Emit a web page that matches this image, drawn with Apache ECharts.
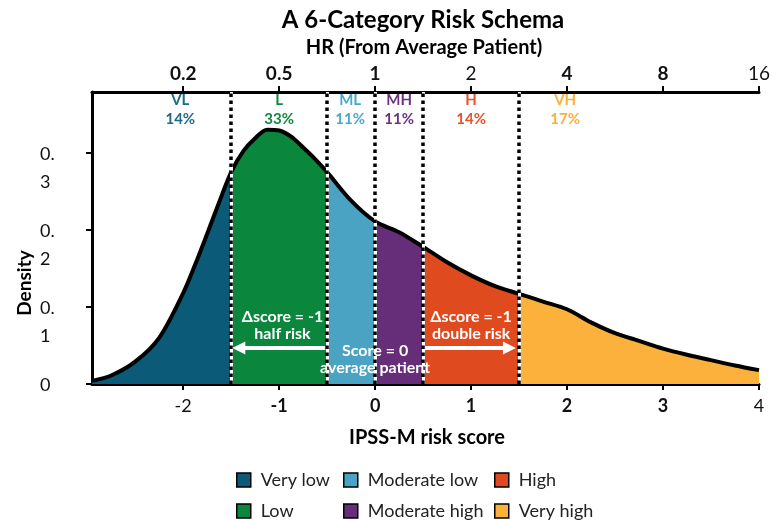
<!DOCTYPE html>
<html>
<head>
<meta charset="utf-8">
<script src="https://cdn.jsdelivr.net/npm/echarts@6/dist/echarts.min.js"></script>
<style>
  html, body { margin: 0; padding: 0; background: #fff; }
  #chart { width: 773px; height: 520px; }
</style>
</head>
<body>
<div id="chart"></div>
<script>
// Density of the IPSS-M risk score
const scores  = [-2.95, -2.75, -2.5, -2.25, -2.0, -1.875, -1.75, -1.625, -1.5, -1.375, -1.25, -1.125, -1.0, -0.875, -0.75, -0.625, -0.5, -0.25, 0, 0.25, 0.5, 0.75, 1.0, 1.25, 1.5, 1.75, 2.0, 2.25, 2.5, 2.75, 3.0, 3.25, 3.5, 3.75, 4.0];
const density = [0.004, 0.011, 0.029, 0.060, 0.118, 0.155, 0.195, 0.236, 0.275, 0.302, 0.319, 0.330, 0.329, 0.321, 0.307, 0.292, 0.275, 0.238, 0.211, 0.197, 0.178, 0.158, 0.141, 0.127, 0.117, 0.107, 0.097, 0.080, 0.066, 0.056, 0.046, 0.038, 0.031, 0.024, 0.018];

// Risk categories, their share of patients and the score cut points between them
const categories    = ['Very low', 'Low', 'Moderate low', 'Moderate high', 'High', 'Very high'];
const abbreviations = ['VL', 'L', 'ML', 'MH', 'H', 'VH'];
const shares        = ['14%', '33%', '11%', '11%', '14%', '17%'];
const cutPoints     = [-1.5, -0.5, 0, 0.5, 1.5];

// Tick labels
const scoreTicks   = [-2, -1, 0, 1, 2, 3, 4];
const hrTickLabels = ['0.2', '0.5', '1', '2', '4', '8', '16'];
const densityTicks = [0, 0.1, 0.2, 0.3];

const palette   = ['#0b5a77', '#0a873d', '#4aa3c3', '#662d79', '#e04a1f', '#fbb13b'];
const textTints = ['#1b6a8a', '#0e8a3f', '#4ba8c8', '#6b3380', '#e8522a', '#fbb03b'];
const FONT = 'Lato, "Open Sans", sans-serif';

const chart = echarts.init(document.getElementById('chart'), null, { renderer: 'canvas' });

// Piecewise colouring of the area under the curve, one piece per category
const pieces = categories.map((c, i) => {
  const p = { color: palette[i] };
  if (i > 0) p.gte = cutPoints[i - 1];
  if (i < cutPoints.length) p.lt = cutPoints[i];
  return p;
});

// Where the category captions sit along the score axis
const captionX = [-2.03, -1.0, -0.26, 0.25, 1.0, 1.98];

const boldBottom = new Set([-1, 0, 1, 2, 3]);
const boldTop = new Set([-2, -1, 0, 2, 3]);

const legendLeft = [236, 343, 494];
const legendTop = [471, 502];
const legends = categories.map((c, i) => ({
  data: [c],
  left: legendLeft[Math.floor(i / 2)],
  top: legendTop[i % 2],
  padding: 0,
  icon: 'rect',
  itemWidth: 14,
  itemHeight: 14,
  selectedMode: false,
  itemStyle: { borderColor: '#000', borderWidth: 1.5 },
  textStyle: { fontSize: 18, color: '#222', fontFamily: FONT, padding: [0, 0, 0, 5] }
}));

const richDigits = (size) => ({
  b: { fontSize: size, fontWeight: 'bold', color: '#111', fontFamily: FONT },
  r: { fontSize: size, fontWeight: 'normal', color: '#111', fontFamily: FONT }
});

const option = {
  animation: false,
  textStyle: { fontFamily: FONT },
  grid: { left: 92, right: 13, top: 92, bottom: 136, containLabel: false },
  legend: legends,
  visualMap: {
    show: false,
    type: 'piecewise',
    dimension: 0,
    seriesIndex: 0,
    pieces: pieces
  },
  xAxis: [
    {
      type: 'value',
      min: -2.95,
      max: 4,
      position: 'bottom',
      splitLine: { show: false },
      axisLine: { show: true, onZero: false, lineStyle: { color: '#000', width: 3 } },
      axisTick: { show: true, customValues: scoreTicks, length: 6, lineStyle: { color: '#000', width: 2 } },
      axisLabel: {
        customValues: scoreTicks,
        margin: 13,
        fontSize: 18,
        color: '#111',
        formatter: v => (boldBottom.has(v) ? '{b|' : '{r|') + (v < 0 ? '-' + Math.abs(v) : v) + '}',
        rich: richDigits(18)
      }
    },
    {
      type: 'value',
      min: -2.95,
      max: 4,
      position: 'top',
      splitLine: { show: false },
      axisLine: { show: true, onZero: false, lineStyle: { color: '#000', width: 3 } },
      axisTick: { show: true, customValues: scoreTicks, length: 6, lineStyle: { color: '#000', width: 2 } },
      axisLabel: {
        customValues: scoreTicks,
        margin: 9,
        fontSize: 19,
        color: '#111',
        formatter: v => {
          const label = hrTickLabels[scoreTicks.indexOf(v)];
          return (boldTop.has(v) ? '{b|' : '{r|') + label + '}';
        },
        rich: richDigits(19)
      }
    }
  ],
  yAxis: {
    type: 'value',
    min: 0,
    max: 0.379,
    position: 'left',
    splitLine: { show: false },
    axisLine: { show: true, onZero: false, lineStyle: { color: '#000', width: 3 } },
    axisTick: { show: true, customValues: densityTicks, length: 6, lineStyle: { color: '#000', width: 2 } },
    axisLabel: {
      customValues: densityTicks,
      align: 'left',
      verticalAlign: 'top',
      margin: 52,
      color: '#111',
      // the tick value wraps after "0." ; the first line sits on the tick
      formatter: v => (v === 0 ? '{f|0}' : '{f|0.}\n{s|' + String(v).slice(2) + '}'),
      rich: {
        f: { fontSize: 18, lineHeight: 2, color: '#111', fontFamily: FONT },
        s: { fontSize: 18, lineHeight: 54, color: '#111', fontFamily: FONT }
      }
    }
  },
  graphic: [
    { type: 'text', x: 423, y: 20, style: { text: 'A 6-Category Risk Schema', font: 'bold 24px ' + FONT, fill: '#000', align: 'center', verticalAlign: 'middle' } },
    { type: 'text', x: 424, y: 48, style: { text: 'HR (From Average Patient)', font: 'bold 20px ' + FONT, fill: '#000', align: 'center', verticalAlign: 'middle' } },
    { type: 'text', x: 427, y: 438, style: { text: 'IPSS-M risk score', font: 'bold 20px ' + FONT, fill: '#000', align: 'center', verticalAlign: 'middle' } },
    { type: 'text', x: 25, y: 283, rotation: Math.PI / 2, style: { text: 'Density', font: 'bold 19px ' + FONT, fill: '#000', align: 'center', verticalAlign: 'middle' } }
  ],
  series: [
    // Density curve, filled by category
    {
      type: 'line',
      name: 'density',
      xAxisIndex: 0,
      data: scores.map((s, i) => [s, density[i]]),
      smooth: 0.3,
      showSymbol: false,
      silent: true,
      z: 2,
      lineStyle: { color: '#000', width: 4 },
      areaStyle: { opacity: 1 }
    },
    // White backing under the category boundaries
    {
      type: 'line',
      data: [],
      z: 3,
      silent: true,
      markLine: {
        silent: true,
        symbol: 'none',
        label: { show: false },
        lineStyle: { color: '#fff', width: 3, type: 'solid' },
        data: cutPoints.map(c => ({ xAxis: c }))
      }
    },
    // Dotted category boundaries
    {
      type: 'line',
      data: [],
      z: 4,
      silent: true,
      markLine: {
        silent: true,
        symbol: 'none',
        label: { show: false },
        lineStyle: { color: '#000', width: 3.5, type: [3.5, 3.5], cap: 'butt' },
        data: cutPoints.map(c => ({ xAxis: c }))
      }
    },
    // Category captions, arrows and notes
    {
      type: 'line',
      data: [],
      z: 5,
      silent: true,
      markPoint: {
        silent: true,
        symbol: 'circle',
        symbolSize: 0,
        data: captionX.map((x, i) => ({
          coord: [x, 0.356],
          label: {
            show: true,
            position: 'inside',
            formatter: abbreviations[i] + '\n' + shares[i],
            color: textTints[i],
            fontWeight: 'bold',
            fontSize: 15,
            lineHeight: 19,
            fontFamily: FONT
          }
        })).concat([
          { coord: [-0.965, 0.0766], text: 'Δscore = -1\nhalf risk' },
          { coord: [0, 0.0318], text: 'Score = 0\naverage patient' },
          { coord: [1.0, 0.0766], text: 'Δscore = -1\ndouble risk' }
        ].map(n => ({
          coord: n.coord,
          label: {
            show: true,
            position: 'inside',
            formatter: n.text,
            color: '#fff',
            fontWeight: 'bold',
            fontSize: 16,
            lineHeight: 17,
            fontFamily: FONT
          }
        })))
      },
      markLine: {
        silent: true,
        symbol: ['none', 'triangle'],
        symbolSize: 13,
        label: { show: false },
        lineStyle: { color: '#fff', width: 4, type: 'solid' },
        data: [
          [{ coord: [-0.52, 0.0468] }, { coord: [-1.42, 0.0468] }],
          [{ coord: [0.52, 0.0468] }, { coord: [1.40, 0.0468] }]
        ]
      }
    }
  ].concat(categories.map((c, i) => ({
    // Legend entries
    type: 'line',
    name: c,
    data: [],
    color: palette[i],
    itemStyle: { color: palette[i] }
  })))
};

chart.setOption(option);
</script>
</body>
</html>
